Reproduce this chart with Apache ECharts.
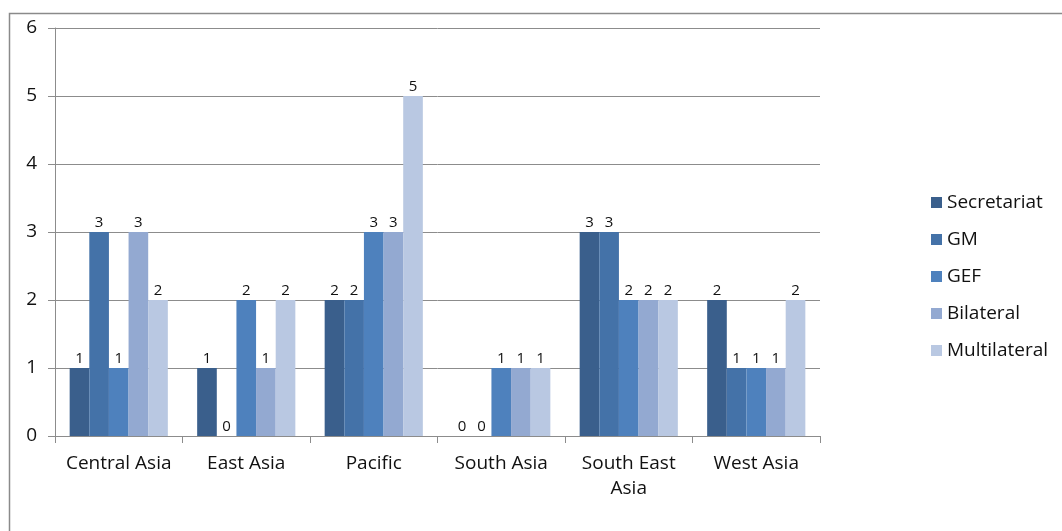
<!DOCTYPE html>
<html><head><meta charset="utf-8">
<script src="https://cdn.jsdelivr.net/npm/echarts@6/dist/echarts.min.js"></script>
<style>html,body{margin:0;padding:0;background:#fff}#c{width:1062px;height:531px}</style>
</head><body><div id="c"></div>
<script>
const categories = ['Central Asia','East Asia','Pacific','South Asia','South East\nAsia','West Asia'];
const seriesNames = ['Secretariat','GM','GEF','Bilateral','Multilateral'];
const secretariat = [1,1,2,0,3,2];
const gm = [3,0,2,0,3,1];
const gef = [1,2,3,1,2,1];
const bilateral = [3,1,3,1,2,1];
const multilateral = [2,2,5,1,2,2];
const colors = ['#3A5F8C','#4472A8','#4E81BD','#93A9D1','#B9C8E2'];
const values = [secretariat, gm, gef, bilateral, multilateral];
const font = 'Open Sans';
const chart = echarts.init(document.getElementById('c'));
chart.setOption({
  animation:false,
  textStyle:{fontFamily:font},
  graphic:[{type:'rect',shape:{x:9.5,y:13.5,width:1200,height:700},style:{fill:'none',stroke:'#8a8a8a',lineWidth:1.5},z:-1}],
  grid:{left:55,right:242,top:28,bottom:95},
  legend:{orient:'vertical',left:926,top:188,itemWidth:11,itemHeight:11,itemGap:18,icon:'rect',
    textStyle:{fontFamily:font,fontSize:19,color:'#111'},data:seriesNames},
  xAxis:{type:'category',data:categories,
    axisLine:{lineStyle:{color:'#8c8c8c',width:1}},
    axisTick:{show:true,length:7,lineStyle:{color:'#8c8c8c'}},
    axisLabel:{fontFamily:font,fontSize:19,color:'#111',margin:15,lineHeight:25,interval:0}},
  yAxis:{type:'value',min:0,max:6,interval:1,
    axisLine:{show:true,lineStyle:{color:'#8c8c8c'}},
    axisTick:{show:true,length:7,lineStyle:{color:'#8c8c8c'}},
    splitLine:{lineStyle:{color:'#8c8c8c'}},
    axisLabel:{fontFamily:font,fontSize:19,color:'#111',margin:18}},
  series: seriesNames.map((n,i)=>({
    name:n,type:'bar',data:values[i],barGap:'0%',barCategoryGap:'23%',
    itemStyle:{color:colors[i]},
    label:{show:true,position:'top',distance:2,fontFamily:font,fontSize:15,color:'#111'}
  }))
});
</script></body></html>
